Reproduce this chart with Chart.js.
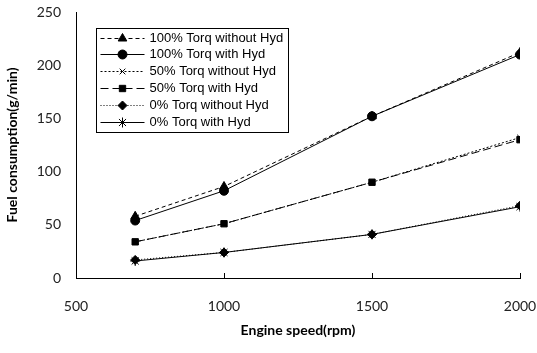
<!DOCTYPE html>
<html>
<head>
<meta charset="utf-8">
<script src="https://cdn.jsdelivr.net/npm/chart.js@4.4.1/dist/chart.umd.min.js"></script>
<style>
  html, body { margin: 0; padding: 0; background: #fff; }
  #wrap { width: 537px; height: 353px; }
</style>
</head>
<body>
<div id="wrap"><canvas id="myChart" width="537" height="353"></canvas></div>
<script>
var speeds = [700, 1000, 1500, 2000];
var full_noHyd = [58, 86, 152, 212];
var full_hyd = [54, 82, 152, 210];
var half_noHyd = [34, 51, 90, 132];
var half_hyd = [34, 51, 90, 130];
var zero_noHyd = [17, 24, 41, 68];
var zero_hyd = [16, 24, 41, 67];
var xTicks = [500, 1000, 1500, 2000];
var yTicks = [0, 50, 100, 150, 200, 250];

function pts(vals) {
  return vals.map(function(v, i){ return {x: speeds[i], y: v}; });
}

function series(label, vals, dash, style, radius) {
  return {
    label: label,
    data: pts(vals),
    borderColor: '#000',
    backgroundColor: '#000',
    borderWidth: 1,
    borderDash: dash,
    pointStyle: style,
    pointRadius: radius,
    pointBorderWidth: 1,
    pointBorderColor: '#000',
    pointBackgroundColor: '#000'
  };
}

var sets = [
  series('100% Torq without Hyd', full_noHyd, [4, 3], 'triangle', 5),
  series('100% Torq with Hyd', full_hyd, [], 'circle', 4.5),
  series('50% Torq without Hyd', half_noHyd, [2, 2], 'crossRot', 4),
  series('50% Torq with Hyd', half_hyd, [8, 4], 'rect', 4.5),
  series('0% Torq without Hyd', zero_noHyd, [1, 2], 'rectRot', 4.5),
  series('0% Torq with Hyd', zero_hyd, [], 'star', 5)
];

// legend box inside the plot + inward x ticks
var boxLegend = {
  id: 'boxLegend',
  afterDraw: function(chart) {
    var ctx = chart.ctx;
    var xs = chart.scales.x, ys = chart.scales.y;
    ctx.save();
    ctx.strokeStyle = '#000';
    ctx.lineWidth = 1;
    ctx.setLineDash([]);
    xTicks.forEach(function(t){
      var px = Math.round(xs.getPixelForValue(t)) + 0.5;
      ctx.beginPath();
      ctx.moveTo(px, ys.bottom);
      ctx.lineTo(px, ys.bottom - 5);
      ctx.stroke();
    });
    var x0 = 96.5, y0 = 28.5, w = 192, h = 104;
    ctx.fillStyle = '#fff';
    ctx.fillRect(x0, y0, w, h);
    ctx.strokeRect(x0, y0, w, h);
    ctx.font = '13px "Liberation Sans", Arial, sans-serif';
    ctx.textBaseline = 'middle';
    chart.data.datasets.forEach(function(ds, i){
      var yy = Math.round(y0 + 9 + i * 16.9) + 0.5;
      ctx.strokeStyle = '#000';
      ctx.lineWidth = 1;
      ctx.setLineDash(ds.borderDash);
      ctx.beginPath();
      ctx.moveTo(x0 + 4, yy);
      ctx.lineTo(x0 + 48, yy);
      ctx.stroke();
      ctx.setLineDash([]);
      ctx.fillStyle = '#000';
      Chart.helpers.drawPoint(ctx, {pointStyle: ds.pointStyle, radius: ds.pointRadius, rotation: 0, borderWidth: 1}, x0 + 26, yy);
      ctx.fillStyle = '#000';
      ctx.fillText(ds.label, x0 + 53, yy);
    });
    ctx.restore();
  }
};

var ctx = document.getElementById('myChart').getContext('2d');
var myChart = new Chart(ctx, {
  type: 'line',
  data: { datasets: sets },
  options: {
    responsive: false,
    animation: false,
    layout: { padding: { top: 12, right: 0, left: 0, bottom: 0 } },
    plugins: { legend: { display: false }, tooltip: { enabled: false } },
    scales: {
      x: {
        type: 'linear',
        min: 500, max: 2000,
        afterBuildTicks: function(s){ s.ticks = xTicks.map(function(v){ return {value: v}; }); },
        afterFit: function(s){ s.height = 75; s.paddingRight = 17; s.paddingLeft = 0; },
        grid: { display: false, drawTicks: false },
        border: { color: '#000', width: 1 },
        ticks: { color: '#222', padding: 20, maxRotation: 0, font: { family: 'Lato', size: 14 },
                 callback: function(v){ return String(v); } },
        title: { display: true, text: 'Engine speed(rpm)', color: '#000', padding: { top: 6, bottom: 14 },
                 font: { family: 'Lato', size: 14, weight: 'bold' } }
      },
      y: {
        min: 0, max: 250,
        afterBuildTicks: function(s){ s.ticks = yTicks.map(function(v){ return {value: v}; }); },
        afterFit: function(s){ s.width = 76; s.paddingTop = 0; },
        grid: { display: false, drawTicks: false },
        border: { color: '#000', width: 1 },
        ticks: { color: '#222', padding: 15, font: { family: 'Lato', size: 14 } },
        title: { display: true, text: 'Fuel consumption(g/min)', color: '#000', padding: { top: 4, bottom: 4 },
                 font: { family: 'Lato', size: 14, weight: 'bold' } }
      }
    }
  },
  plugins: [boxLegend]
});
</script>
</body>
</html>
